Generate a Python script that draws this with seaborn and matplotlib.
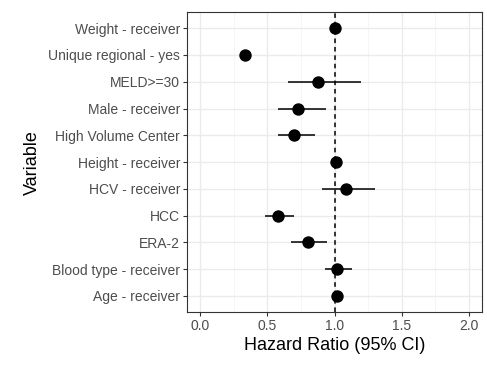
import seaborn as sns
import matplotlib.pyplot as plt
import pandas as pd

# variables, top to bottom
variables = ['Weight - receiver', 'Unique regional - yes', 'MELD>=30', 'Male - receiver',
             'High Volume Center', 'Height - receiver', 'HCV - receiver', 'HCC', 'ERA-2',
             'Blood type - receiver', 'Age - receiver']
hr = [1.00, 0.33, 0.875, 0.73, 0.70, 1.01, 1.085, 0.576, 0.80, 1.02, 1.02]
lower = [0.99, 0.30, 0.65, 0.58, 0.576, 1.00, 0.91, 0.48, 0.676, 0.925, 1.01]
upper = [1.01, 0.36, 1.20, 0.935, 0.855, 1.02, 1.30, 0.70, 0.943, 1.13, 1.03]

df = pd.DataFrame({'Variable': variables, 'HR': hr, 'lo': lower, 'hi': upper})

sns.set_style('white')
plt.rcParams['font.family'] = ['Liberation Sans', 'DejaVu Sans']
fig = plt.figure(figsize=(4.87, 3.68), dpi=100)
ax = fig.add_axes([0.384, 0.152, 0.606, 0.815])

# grid like ggplot theme_bw
for v in [0.25, 0.75, 1.25, 1.75]:
    ax.axvline(v, color='#f2f2f2', lw=0.5, zorder=0)
for v in [0, 0.5, 1.0, 1.5, 2.0]:
    ax.axvline(v, color='#ebebeb', lw=1.0, zorder=0)
for i in range(len(variables)):
    ax.axhline(i, color='#ebebeb', lw=1.0, zorder=0)

ax.hlines(df['Variable'], df['lo'], df['hi'], color='black', lw=1.1, zorder=2)
sns.scatterplot(data=df, x='HR', y='Variable', color='black', s=80,
                edgecolor='black', linewidth=0, ax=ax, zorder=3)
ax.axvline(1.0, color='black', ls=(0, (3, 2.5)), lw=1.1, zorder=4)

ax.set_xlim(-0.1, 2.1)
ax.set_ylim(len(variables) - 0.4, -0.6)
ax.set_xticks([0, 0.5, 1.0, 1.5, 2.0])
ax.set_xticklabels(['0.0', '0.5', '1.0', '1.5', '2.0'])

ax.set_xlabel('Hazard Ratio (95% CI)', fontsize=13, color='black', labelpad=3)
ax.set_ylabel('Variable', fontsize=13, color='black', labelpad=5)
ax.tick_params(axis='both', labelsize=10, labelcolor='#4d4d4d', length=3,
               color='#333333', width=0.8, pad=2, direction='out')
ax.tick_params(bottom=True, left=True)
for sp in ax.spines.values():
    sp.set_color('#333333')
    sp.set_linewidth(0.8)

fig.savefig('out.png', dpi=100)
